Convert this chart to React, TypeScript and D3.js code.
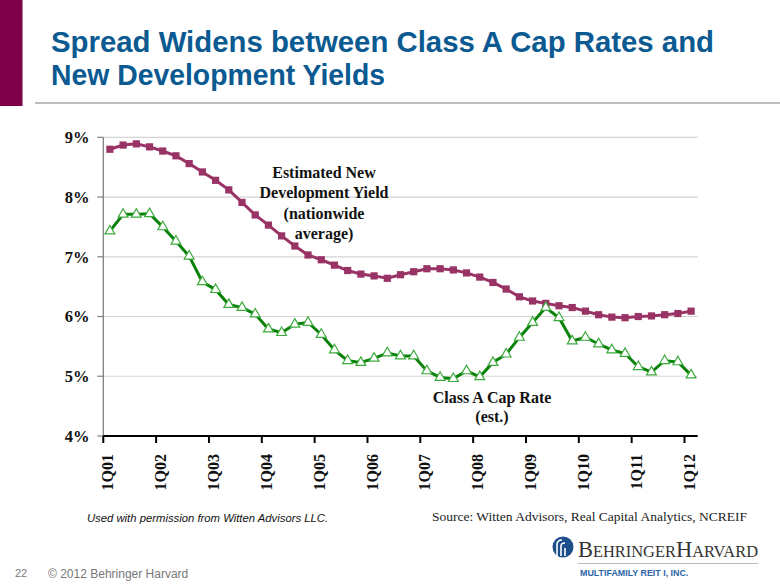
import React from "react";
import * as d3 from "d3";

const years = ["01","02","03","04","05","06","07","08","09","10","11","12"];
const quarters: string[] = [];
years.forEach((y) => {
  ["1","2","3","4"].forEach((q) => {
    if (!(y === "12" && q !== "1")) quarters.push(`${q}Q${y}`);
  });
});

const devYield = [
  8.80, 8.87, 8.89, 8.84, 8.77, 8.69, 8.56, 8.42, 8.28, 8.12, 7.91, 7.70,
  7.53, 7.35, 7.18, 7.03, 6.95, 6.86, 6.77, 6.71, 6.68, 6.64, 6.70, 6.75,
  6.80, 6.80, 6.78, 6.73, 6.66, 6.57, 6.46, 6.33, 6.26, 6.22, 6.18, 6.15,
  6.09, 6.03, 5.99, 5.98, 6.00, 6.01, 6.03, 6.05, 6.09,
];
const capRate = [
  7.43, 7.71, 7.71, 7.72, 7.50, 7.26, 7.01, 6.58, 6.45, 6.20, 6.15, 6.04,
  5.79, 5.73, 5.87, 5.90, 5.70, 5.44, 5.26, 5.23, 5.30, 5.39, 5.34, 5.34,
  5.09, 4.98, 4.96, 5.09, 4.99, 5.23, 5.37, 5.65, 5.90, 6.15, 5.98, 5.59,
  5.65, 5.54, 5.44, 5.38, 5.16, 5.07, 5.26, 5.24, 5.02,
];
const yTicks = [4, 5, 6, 7, 8, 9];
const devLabel = ["Estimated New", "Development Yield", "(nationwide", "average)"];
const capLabel = ["Class A Cap Rate", "(est.)"];

const W = 780, H = 585;
const plot = { left: 103.3, right: 697.7, top: 137.3, bottom: 436 };

export default function App() {
  const x = d3.scaleBand<string>().domain(quarters).range([plot.left, plot.right]).padding(0);
  const y = d3.scaleLinear().domain([4, 9]).range([plot.bottom, plot.top]);
  const cx = (q: string) => (x(q) as number) + x.bandwidth() / 2;
  const line = d3.line<number>().x((_, i) => cx(quarters[i])).y((d) => y(d));
  const tri = d3.symbol().type(d3.symbolTriangle).size(42)();
  const yearTicks = quarters.filter((q) => q.startsWith("1Q"));
  const serif = "'Liberation Serif', 'Times New Roman', serif";
  const sans = "'Liberation Sans', Arial, sans-serif";

  return (
    <svg width={W} height={H} style={{ position: "absolute", left: 0, top: 0, background: "#fff" }}>
      <rect x={0} y={0} width={W} height={H} fill="#fff" />
      {/* left bar */}
      <rect x={0} y={0} width={22.5} height={106} fill="#7D0049" />
      {/* title */}
      <g fontFamily={sans} fontWeight="bold" fontSize={29.3} fill="#0B5A91">
        <text x={51} y={52} textLength={663} lengthAdjust="spacingAndGlyphs">Spread Widens between Class A Cap Rates and</text>
        <text x={51} y={85} textLength={334} lengthAdjust="spacingAndGlyphs">New Development Yields</text>
      </g>
      <rect x={35} y={102} width={W - 35} height={2} fill="#BDBDBD" />

      {/* gridlines */}
      {yTicks.map((t) => (
        <g key={t}>
          {t > 4 && (
            <line x1={plot.left} x2={plot.right} y1={y(t)} y2={y(t)} stroke="#D4D4D4" strokeWidth={1.2} />
          )}
          <line x1={plot.left - 6} x2={plot.left} y1={y(t)} y2={y(t)} stroke="#808080" strokeWidth={1.2} />
          <text x={89.5} y={y(t)} dy="0.35em" textAnchor="end" fontFamily={serif} fontWeight="bold" fontSize={16.5} fill="#111">
            {t}%
          </text>
        </g>
      ))}
      <line x1={plot.left} x2={plot.left} y1={plot.top} y2={plot.bottom} stroke="#808080" strokeWidth={1.3} />
      <line x1={plot.left} x2={plot.right} y1={plot.bottom} y2={plot.bottom} stroke="#000" strokeWidth={2.2} />
      {yearTicks.map((q) => {
        const tx = x(q) as number;
        return (
          <g key={q}>
            <line x1={tx} x2={tx} y1={plot.bottom} y2={plot.bottom + 7} stroke="#000" strokeWidth={2} />
            <text
              transform={`translate(${tx + 4.5},454) rotate(-90)`}
              dy="0.35em"
              textAnchor="end"
              fontFamily={serif}
              fontWeight="bold"
              fontSize={16}
              fill="#111"
            >
              {q}
            </text>
          </g>
        );
      })}

      {/* dev yield */}
      <path d={line(devYield) || ""} fill="none" stroke="#993366" strokeWidth={3} />
      {devYield.map((v, i) => (
        <rect key={i} x={cx(quarters[i]) - 3.6} y={y(v) - 3.6} width={7.2} height={7.2} fill="#993366" />
      ))}
      {/* cap rate */}
      <path d={line(capRate) || ""} fill="none" stroke="#0A820A" strokeWidth={3} />
      {capRate.map((v, i) => (
        <path key={i} d={tri || ""} transform={`translate(${cx(quarters[i])},${y(v)})`} fill="#fff" stroke="#3CAA3C" strokeWidth={1.2} />
      ))}

      {/* annotations */}
      <g fontFamily={serif} fontWeight="bold" fontSize={16} fill="#111" textAnchor="middle">
        {devLabel.map((s, i) => (
          <text key={s} x={324} y={178 + i * 20.3}>{s}</text>
        ))}
        {capLabel.map((s, i) => (
          <text key={s} x={492} y={402.5 + i * 19.5}>{s}</text>
        ))}
      </g>

      {/* footer */}
      <text x={207.5} y={522} textAnchor="middle" fontFamily={sans} fontStyle="italic" fontSize={11.3} fill="#111">
        Used with permission from Witten Advisors LLC.
      </text>
      <text x={432} y={521} fontFamily={serif} fontSize={13.5} fill="#222">
        Source: Witten Advisors, Real Capital Analytics, NCREIF
      </text>
      <text x={15} y={577} fontFamily={sans} fontSize={11} fill="#777">22</text>
      <text x={48} y={578} fontFamily={sans} fontSize={12} fill="#777">© 2012 Behringer Harvard</text>

      {/* logo */}
      <g>
        <circle cx={563} cy={547} r={10.5} fill="#1C4F8C" />
        <path d="M557,556 L557,545 Q557,540 562,540" stroke="#fff" strokeWidth={1.6} fill="none" />
        <path d="M561,556 L561,546 Q561,543 565,543" stroke="#fff" strokeWidth={1.6} fill="none" />
        <path d="M565,556 L565,548" stroke="#fff" strokeWidth={1.6} fill="none" />
        <text x={578} y={557} fontFamily={serif} fill="#333" fontSize={16.3} textLength={180} lengthAdjust="spacingAndGlyphs">
          <tspan fontSize={22.3}>B</tspan>EHRINGER<tspan fontSize={22.3}>H</tspan>ARVARD
        </text>
        <line x1={578} x2={758} y1={563.5} y2={563.5} stroke="#BBBBBB" strokeWidth={1} />
        <text x={580} y={576} fontFamily={sans} fontWeight="bold" fontSize={8.9} fill="#2A64A6">
          MULTIFAMILY REIT I, INC.
        </text>
      </g>
    </svg>
  );
}
